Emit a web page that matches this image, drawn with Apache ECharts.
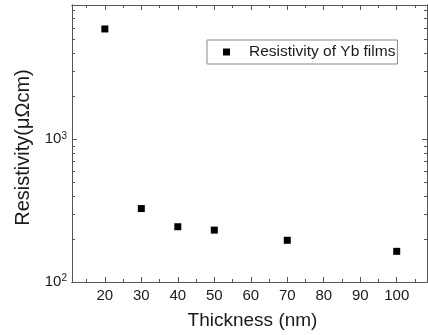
<!DOCTYPE html>
<html><head><meta charset="utf-8">
<script src="https://cdn.jsdelivr.net/npm/echarts@6/dist/echarts.min.js"></script>
<style>html,body{margin:0;padding:0;background:#fff}#c{width:428px;height:335px}</style>
</head><body><div id="c"></div>
<script>
const thickness = [20, 30, 40, 50, 70, 100];
const resistivity = [5930, 327, 244, 231, 196, 164];
const xMajorTicks = [20, 30, 40, 50, 60, 70, 80, 90, 100];
const xMinorTicks = [15, 25, 35, 45, 55, 65, 75, 85, 95, 105];
const yMajorTicks = [100, 1000];
const yMinorTicks = [200, 300, 400, 500, 600, 700, 800, 900, 2000, 3000, 4000, 5000, 6000, 7000, 8000];
const seriesName = 'Resistivity of Yb films';
const xTitle = 'Thickness (nm)';
const yTitle = 'Resistivity(μΩcm)';
const xRange = [11, 108.3];
const yRange = [100, 8730];

const FONT = "'Liberation Sans', Arial, sans-serif";
const LINE = '#555';
const TXT = '#1a1a1a';

function xAx(pos, ticks, len, main) {
  return {
    type: 'value', position: pos, min: xRange[0], max: xRange[1],
    axisLine: { show: true, onZero: false, lineStyle: { color: LINE, width: 1 } },
    axisTick: { show: true, inside: true, length: len, customValues: ticks, lineStyle: { color: LINE, width: 1 } },
    axisLabel: main ? { show: true, customValues: ticks, margin: 6, fontSize: 15, fontFamily: FONT, color: TXT } : { show: false },
    splitLine: { show: false },
    name: main ? xTitle : '', nameLocation: 'middle', nameGap: 29,
    nameTextStyle: { fontSize: 19, fontFamily: FONT, color: TXT, padding: [0, 0, 0, 6] }
  };
}
function yAx(pos, ticks, len, main) {
  return {
    type: 'log', logBase: 10, position: pos, min: yRange[0], max: yRange[1],
    axisLine: { show: true, onZero: false, lineStyle: { color: LINE, width: 1 } },
    axisTick: { show: true, inside: true, length: len, customValues: ticks, lineStyle: { color: LINE, width: 1 } },
    axisLabel: main ? {
      show: true, customValues: ticks, margin: 5,
      formatter: v => '{b|10}{s|' + Math.round(Math.log10(v)) + '}',
      rich: {
        b: { fontSize: 15, fontFamily: FONT, color: TXT },
        s: { fontSize: 10, fontFamily: FONT, color: TXT, verticalAlign: 'top', padding: [0, 0, 7, 0] }
      }
    } : { show: false },
    splitLine: { show: false }, minorTick: { show: false },
    name: main ? yTitle : '', nameLocation: 'middle', nameGap: 38,
    nameTextStyle: { fontSize: 20, fontFamily: FONT, color: TXT, padding: [0, 8, 0, 0] }
  };
}

const chart = echarts.init(document.getElementById('c'), null, { renderer: 'canvas' });
chart.setOption({
  animation: false,
  backgroundColor: '#fff',
  grid: { left: 72, right: 1, top: 5, bottom: 53, containLabel: false, outerBoundsMode: 'none' },
  legend: {
    left: 207, top: 40, itemWidth: 7, itemHeight: 7, itemGap: 0,
    padding: [4, 2, 4, 16], borderColor: '#888', borderWidth: 1,
    icon: 'rect', data: [seriesName],
    itemStyle: { color: '#000', opacity: 1 },
    textStyle: { fontSize: 15.5, fontFamily: FONT, color: TXT, padding: [0, 0, 0, 14] }
  },
  xAxis: [
    xAx('bottom', xMajorTicks, 5, true),
    xAx('bottom', xMinorTicks, 3, false),
    xAx('top', xMajorTicks, 5, false),
    xAx('top', xMinorTicks, 3, false)
  ],
  yAxis: [
    yAx('left', yMajorTicks, 5, true),
    yAx('left', yMinorTicks, 3, false),
    yAx('right', yMajorTicks, 5, false),
    yAx('right', yMinorTicks, 3, false)
  ],
  series: [{
    name: seriesName, type: 'scatter', xAxisIndex: 0, yAxisIndex: 0,
    symbol: 'rect', symbolSize: 7,
    itemStyle: { color: '#000', opacity: 1 },
    data: thickness.map((t, i) => [t, resistivity[i]])
  }]
});
</script></body></html>
